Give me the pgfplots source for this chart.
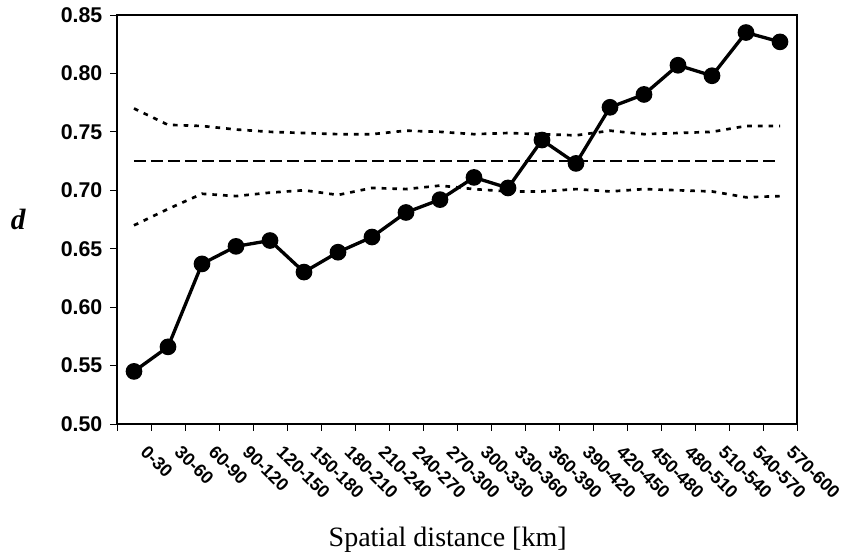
\documentclass[border=0pt]{standalone}
\usepackage{fontspec}
\setmainfont{Liberation Serif}
\setsansfont{Liberation Sans}
\usepackage{pgfplots}
\pgfplotsset{compat=1.18}
\pgfplotstableread{
x d up lo mean
0.5 0.545 0.770 0.670 0.725
1.5 0.566 0.756 0.684 0.725
2.5 0.637 0.755 0.697 0.725
3.5 0.652 0.752 0.695 0.725
4.5 0.657 0.750 0.698 0.725
5.5 0.630 0.749 0.700 0.725
6.5 0.647 0.748 0.696 0.725
7.5 0.660 0.748 0.702 0.725
8.5 0.681 0.751 0.701 0.725
9.5 0.692 0.750 0.704 0.725
10.5 0.711 0.748 0.701 0.725
11.5 0.702 0.749 0.699 0.725
12.5 0.743 0.748 0.699 0.725
13.5 0.723 0.747 0.701 0.725
14.5 0.771 0.751 0.699 0.725
15.5 0.782 0.748 0.701 0.725
16.5 0.807 0.749 0.700 0.725
17.5 0.798 0.750 0.699 0.725
18.5 0.835 0.755 0.694 0.725
19.5 0.827 0.755 0.695 0.725
}\datatable
\begin{document}
\begin{tikzpicture}
\begin{axis}[
  name=ax,
  scale only axis,
  width=510pt, height=306.75pt,
  xmin=0, xmax=20, ymin=0.50, ymax=0.85,
  xtick={0,1,...,20},
  x tick label as interval,
  xticklabels={0-30,30-60,60-90,90-120,120-150,150-180,180-210,210-240,240-270,270-300,300-330,330-360,360-390,390-420,420-450,450-480,480-510,510-540,540-570,570-600},
  ytick={0.50,0.55,...,0.851},
  /pgf/number format/assume math mode=true,
  yticklabel style={font=\sffamily\bfseries\fontsize{16}{18}\selectfont, xshift=-2.5pt, /pgf/number format/.cd,fixed,fixed zerofill,precision=2},
  xticklabel style={font=\sffamily\bfseries\fontsize{13.5}{15}\selectfont, rotate=-45, anchor=north west, xshift=11.5pt, yshift=4pt},
  tick align=outside,
  xtick pos=left, ytick pos=left,
  major tick length=5pt,
  axis line style={line width=1pt},
  every tick/.style={black, line width=0.6pt},
  xlabel={Spatial distance [km]},
  ylabel={\textbf{\textit{d}}},
  every axis x label/.style={at={(rel axis cs:0.5,0)}, anchor=north, yshift=-74pt, xshift=-7pt, font=\fontsize{21}{23}\selectfont},
  every axis y label/.style={at={(rel axis cs:0,0.5)}, anchor=center, xshift=-74pt, font=\fontsize{22}{24}\selectfont},
  clip=false,
]
\addplot[black, line width=1pt, dash pattern=on 9pt off 3.75pt] table[x=x,y=mean] {\datatable};
\addplot[black, line width=2pt, dash pattern=on 3.5pt off 4.5pt] table[x=x,y=up] {\datatable};
\addplot[black, line width=2pt, dash pattern=on 3.5pt off 4.5pt] table[x=x,y=lo] {\datatable};
\addplot[black, line width=2.5pt, mark=*, mark size=5pt, mark options={solid}] table[x=x,y=d] {\datatable};
\coordinate (sw) at (rel axis cs:0,0);
\coordinate (ne) at (rel axis cs:1,1);
\end{axis}
\pgfresetboundingbox
\path (sw) +(-87.75pt,-98.25pt) rectangle ([shift={(34.5pt,11.25pt)}]ne);
\end{tikzpicture}
\end{document}
